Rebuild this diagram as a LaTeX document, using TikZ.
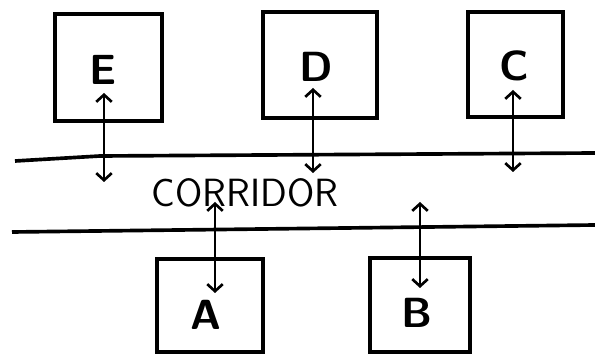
\documentclass[tikz,border=0pt]{standalone}
\usepackage{tikz}
\usetikzlibrary{arrows.meta,positioning}

\tikzset{
  room/.style={draw, line width=2.4pt, inner sep=0pt},
  tag/.style={font=\fontsize{30}{30}\selectfont\sffamily\bfseries, inner sep=0pt},
  door/.style={line width=1.9pt, <->, >={Straight Barb[length=5pt,width=11pt]}},
}

\begin{document}
\begin{tikzpicture}[x=0.025cm, y=-0.025cm]
  \useasboundingbox (0,0) rectangle (595,354);

  % Corridor walls
  \draw[line width=2.6pt] (15,161) -- (100,156) -- (595,153);
  \draw[line width=2.6pt] (12,232) -- (595,225);
  \node[font=\fontsize{28}{28}\selectfont\sffamily, inner sep=0pt] (corr) at (245,193) {CORRIDOR};

  % Rooms above the corridor
  \node[room, minimum width=2.68cm, minimum height=2.68cm] (roomE) at (108.5,67.5) {};
  \node[room, minimum width=2.85cm, minimum height=2.65cm] (roomD) at (320,65) {};
  \node[room, minimum width=2.38cm, minimum height=2.63cm] (roomC) at (515.5,64.5) {};
  \node[tag] (tagE) at (103,70) {E};
  \node[tag] (tagD) at (316,67) {D};
  \node[tag] (tagC) at (514,66) {C};

  % Rooms below the corridor
  \node[room, minimum width=2.65cm, minimum height=2.33cm] (roomA) at (210,305.5) {};
  \node[room, minimum width=2.5cm, minimum height=2.35cm] (roomB) at (420,305) {};
  \node[tag] (tagA) at (206,315) {A};
  \node[tag] (tagB) at (417,313) {B};

  % Doors (two-way traffic)
  \coordinate (inE) at (104,93);  \coordinate (outE) at (104,182);
  \coordinate (inD) at (313,88);  \coordinate (outD) at (313,173);
  \coordinate (inC) at (513,90);  \coordinate (outC) at (513,172);
  \coordinate (outA) at (215,202); \coordinate (inA) at (215,293);
  \coordinate (outB) at (420,202); \coordinate (inB) at (420,288);
  \draw[door] (inE) -- (outE);
  \draw[door] (inD) -- (outD);
  \draw[door] (inC) -- (outC);
  \draw[door] (outA) -- (inA);
  \draw[door] (outB) -- (inB);
\end{tikzpicture}
\end{document}
